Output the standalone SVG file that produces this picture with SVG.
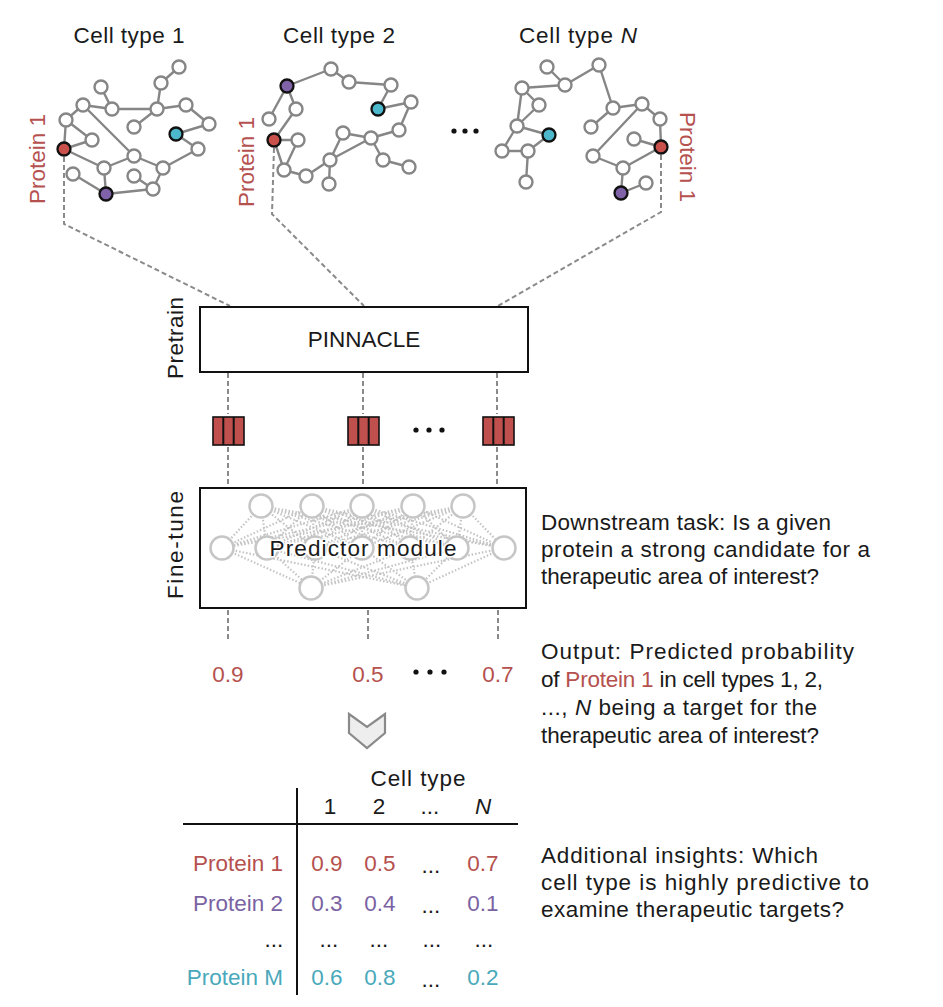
<svg xmlns="http://www.w3.org/2000/svg" width="943" height="1007" viewBox="0 0 943 1007">
<defs>
<style>
.t{font-family:"Liberation Sans",Arial,sans-serif;font-size:22.5px;fill:#1a1a1a}
.red{fill:#b5514e}
.pur{fill:#7a62a3}
.cyn{fill:#49a9bb}
.e{stroke:#868686;stroke-width:2.4;fill:none}
.n{fill:#fff;stroke:#868686;stroke-width:2.4}
.nr{fill:#c9504b;stroke:#111;stroke-width:2.3}
.nc{fill:#4db8cc;stroke:#111;stroke-width:2.3}
.np{fill:#7f62a8;stroke:#111;stroke-width:2.3}
.dash{stroke:#8a8a8a;stroke-width:2;fill:none;stroke-dasharray:5 3}
.box{fill:#fff;stroke:#111;stroke-width:2}
.pn{fill:#fff;stroke:#c6c6c6;stroke-width:2.5}
.pl{stroke:#c4c4c4;stroke-width:2.2;stroke-dasharray:1.5 2;fill:none}
.emb{fill:#c0504d;stroke:#111;stroke-width:1.6}
.dot{fill:#111}
.rule{stroke:#111;stroke-width:2}
</style>
</defs>
<rect width="943" height="1007" fill="#fff"/>

<!-- connectors -->
<g id="connectors">
  <path class="dash" d="M64 157L64 224L230 306"/>
  <path class="dash" d="M274 148L272 214L364 306"/>
  <path class="dash" d="M661 155L661 212L498 306"/>
  <path class="dash" d="M228 373V414M363 373V414M497 373V414"/>
  <path class="dash" d="M228 447V487M363 447V487M497 447V487"/>
  <path class="dash" d="M228 610V641M368 610V641M498 610V641"/>
</g>

<!-- Cell type 1 graph -->
<g id="graph1">
  <text class="t" x="129" y="43" text-anchor="middle" textLength="111" lengthAdjust="spacing">Cell type 1</text>
  <path class="e" d="M179 67L161 83M161 83L157 109M157 109L186 105M186 105L209 124M157 109L112 109M157 109L134 127M101 87L112 109M112 109L83 105M83 105L66 120M83 105L134 156M66 120L92 140M66 120L64 149M64 149L92 140M64 149L104 168M104 168L134 156M104 168L106 194M73 174L106 194M134 156L163 168M163 168L198 149M163 168L153 189M134 176L153 189M106 194L153 189M176 134L209 124M176 134L198 149"/>
  <circle class="n" cx="179" cy="67" r="6.5"/><circle class="n" cx="161" cy="83" r="6.5"/><circle class="n" cx="101" cy="87" r="6.5"/><circle class="n" cx="83" cy="105" r="6.5"/><circle class="n" cx="112" cy="109" r="6.5"/><circle class="n" cx="157" cy="109" r="6.5"/><circle class="n" cx="186" cy="105" r="6.5"/><circle class="n" cx="66" cy="120" r="6.5"/><circle class="n" cx="134" cy="127" r="6.5"/><circle class="n" cx="209" cy="124" r="6.5"/><circle class="n" cx="92" cy="140" r="6.5"/><circle class="n" cx="198" cy="149" r="6.5"/><circle class="n" cx="134" cy="156" r="6.5"/><circle class="n" cx="104" cy="168" r="6.5"/><circle class="n" cx="163" cy="168" r="6.5"/><circle class="n" cx="73" cy="174" r="6.5"/><circle class="n" cx="134" cy="176" r="6.5"/><circle class="n" cx="153" cy="189" r="6.5"/>
  <circle class="nc" cx="176" cy="134" r="6.5"/>
  <circle class="nr" cx="64" cy="149" r="6.5"/>
  <circle class="np" cx="106" cy="194" r="6.5"/>
  <text class="t red" transform="translate(45,159) rotate(-90)" text-anchor="middle">Protein 1</text>
</g>

<!-- Cell type 2 graph -->
<g id="graph2">
  <text class="t" x="339" y="43" text-anchor="middle" textLength="112" lengthAdjust="spacing">Cell type 2</text>
  <path class="e" d="M287 86L331 69M331 69L349 82M349 82L391 85M391 85L378 109M378 109L411 102M411 102L399 130M399 130L371 138M371 138L343 133M371 138L330 160M371 138L383 160M383 160L409 167M343 133L330 160M330 160L306 176M330 160L329 184M306 176L284 170M284 170L274 140M284 170L298 140M274 140L298 140M274 140L296 109M296 109L287 86M269 119L287 86"/>
  <circle class="n" cx="331" cy="69" r="6.5"/><circle class="n" cx="349" cy="82" r="6.5"/><circle class="n" cx="391" cy="85" r="6.5"/><circle class="n" cx="411" cy="102" r="6.5"/><circle class="n" cx="296" cy="109" r="6.5"/><circle class="n" cx="269" cy="119" r="6.5"/><circle class="n" cx="399" cy="130" r="6.5"/><circle class="n" cx="343" cy="133" r="6.5"/><circle class="n" cx="371" cy="138" r="6.5"/><circle class="n" cx="298" cy="140" r="6.5"/><circle class="n" cx="330" cy="160" r="6.5"/><circle class="n" cx="383" cy="160" r="6.5"/><circle class="n" cx="409" cy="167" r="6.5"/><circle class="n" cx="284" cy="170" r="6.5"/><circle class="n" cx="306" cy="176" r="6.5"/><circle class="n" cx="329" cy="184" r="6.5"/>
  <circle class="np" cx="287" cy="86" r="6.5"/>
  <circle class="nc" cx="378" cy="109" r="6.5"/>
  <circle class="nr" cx="274" cy="140" r="6.5"/>
  <text class="t red" transform="translate(254,162) rotate(-90)" text-anchor="middle">Protein 1</text>
</g>

<g id="graph-dots">
  <circle class="dot" cx="454" cy="131" r="2.6"/><circle class="dot" cx="465" cy="131" r="2.6"/><circle class="dot" cx="476" cy="131" r="2.6"/>
</g>

<!-- Cell type N graph -->
<g id="graphN">
  <text class="t" x="578" y="43" text-anchor="middle" textLength="118" lengthAdjust="spacing">Cell type <tspan font-style="italic">N</tspan></text>
  <path class="e" d="M547 67L565 85M565 85L599 65M565 85L522 88M522 88L539 105M522 88L517 126M539 105L517 126M517 126L549 135M517 126L502 151M502 151L528 151M528 151L549 135M528 151L526 182M599 65L613 108M613 108L591 127M613 108L642 104M642 104L660 119M642 104L593 156M660 119L661 147M634 139L661 147M661 147L623 168M623 168L593 156M623 168L621 193M621 193L646 183"/>
  <circle class="n" cx="599" cy="65" r="6.5"/><circle class="n" cx="547" cy="67" r="6.5"/><circle class="n" cx="565" cy="85" r="6.5"/><circle class="n" cx="522" cy="88" r="6.5"/><circle class="n" cx="539" cy="105" r="6.5"/><circle class="n" cx="613" cy="108" r="6.5"/><circle class="n" cx="642" cy="104" r="6.5"/><circle class="n" cx="660" cy="119" r="6.5"/><circle class="n" cx="517" cy="126" r="6.5"/><circle class="n" cx="591" cy="127" r="6.5"/><circle class="n" cx="634" cy="139" r="6.5"/><circle class="n" cx="502" cy="151" r="6.5"/><circle class="n" cx="528" cy="151" r="6.5"/><circle class="n" cx="593" cy="156" r="6.5"/><circle class="n" cx="623" cy="168" r="6.5"/><circle class="n" cx="526" cy="182" r="6.5"/><circle class="n" cx="646" cy="183" r="6.5"/>
  <circle class="nc" cx="549" cy="135" r="6.5"/>
  <circle class="nr" cx="661" cy="147" r="6.5"/>
  <circle class="np" cx="621" cy="193" r="6.5"/>
  <text class="t red" transform="translate(680,157) rotate(90)" text-anchor="middle">Protein 1</text>
</g>

<!-- Pretrain / PINNACLE -->
<g id="pinnacle">
  <text class="t" transform="translate(183,338) rotate(-90)" text-anchor="middle" textLength="82" lengthAdjust="spacing">Pretrain</text>
  <rect class="box" x="200" y="307" width="328" height="65"/>
  <text class="t" x="364" y="347" text-anchor="middle">PINNACLE</text>
</g>

<!-- embeddings -->
<g id="embedding1">
  <rect class="emb" x="213" y="417" width="31" height="28"/><path class="rule" d="M223.3 417V445M233.7 417V445" stroke-width="1.6"/>
</g>
<g id="embedding2">
  <rect class="emb" x="348" y="417" width="31" height="28"/><path class="rule" d="M358.3 417V445M368.7 417V445" stroke-width="1.6"/>
</g>
<g id="embedding-dots">
  <circle class="dot" cx="416" cy="430" r="2.6"/><circle class="dot" cx="429" cy="430" r="2.6"/><circle class="dot" cx="442" cy="430" r="2.6"/>
</g>
<g id="embeddingN">
  <rect class="emb" x="483" y="417" width="31" height="28"/><path class="rule" d="M493.3 417V445M503.7 417V445" stroke-width="1.6"/>
</g>

<!-- Fine-tune / Predictor module -->
<g id="predictor">
  <text class="t" transform="translate(183,545) rotate(-90)" text-anchor="middle" textLength="108" lengthAdjust="spacing">Fine-tune</text>
  <rect class="box" x="200" y="488" width="326" height="120"/>
  <path class="pl" d="M261 506L222 548M261 506L267 548M261 506L315 548M261 506L362 548M261 506L410 548M261 506L457 548M261 506L504 548M312 506L222 548M312 506L267 548M312 506L315 548M312 506L362 548M312 506L410 548M312 506L457 548M312 506L504 548M362 506L222 548M362 506L267 548M362 506L315 548M362 506L362 548M362 506L410 548M362 506L457 548M362 506L504 548M413 506L222 548M413 506L267 548M413 506L315 548M413 506L362 548M413 506L410 548M413 506L457 548M413 506L504 548M463 506L222 548M463 506L267 548M463 506L315 548M463 506L362 548M463 506L410 548M463 506L457 548M463 506L504 548M222 548L311 588M222 548L417 588M267 548L311 588M267 548L417 588M315 548L311 588M315 548L417 588M362 548L311 588M362 548L417 588M410 548L311 588M410 548L417 588M457 548L311 588M457 548L417 588M504 548L311 588M504 548L417 588"/>
  <circle class="pn" cx="261" cy="506" r="11.5"/><circle class="pn" cx="312" cy="506" r="11.5"/><circle class="pn" cx="362" cy="506" r="11.5"/><circle class="pn" cx="413" cy="506" r="11.5"/><circle class="pn" cx="463" cy="506" r="11.5"/>
  <circle class="pn" cx="222" cy="548" r="11.5"/><circle class="pn" cx="267" cy="548" r="11.5"/><circle class="pn" cx="315" cy="548" r="11.5"/><circle class="pn" cx="362" cy="548" r="11.5"/><circle class="pn" cx="410" cy="548" r="11.5"/><circle class="pn" cx="457" cy="548" r="11.5"/><circle class="pn" cx="504" cy="548" r="11.5"/>
  <circle class="pn" cx="311" cy="588" r="11.5"/><circle class="pn" cx="417" cy="588" r="11.5"/>
  <text class="t" x="363" y="556" text-anchor="middle" textLength="187" lengthAdjust="spacing" stroke="#fff" stroke-width="3" paint-order="stroke">Predictor module</text>
</g>

<!-- outputs -->
<g id="outputs">
  <text class="t red" x="228" y="682" text-anchor="middle">0.9</text>
  <text class="t red" x="368" y="682" text-anchor="middle">0.5</text>
  <circle class="dot" cx="416" cy="672" r="2.6"/><circle class="dot" cx="430" cy="672" r="2.6"/><circle class="dot" cx="444" cy="672" r="2.6"/>
  <text class="t red" x="498" y="682" text-anchor="middle">0.7</text>
</g>

<g id="chevron">
  <polygon points="349,714 367,727 385,714 385,733 367,748 349,733" fill="#eeeeee" stroke="#8a8a8a" stroke-width="2.2" stroke-linejoin="miter"/>
</g>

<!-- table -->
<g id="table">
  <text class="t" x="418" y="786" text-anchor="middle" textLength="95" lengthAdjust="spacing">Cell type</text>
  <text class="t" x="330" y="814" text-anchor="middle">1</text>
  <text class="t" x="379" y="814" text-anchor="middle">2</text>
  <text class="t" x="430" y="814" text-anchor="middle">...</text>
  <text class="t" x="483" y="814" text-anchor="middle" font-style="italic">N</text>
  <path class="rule" d="M297 788V995M183 824H518"/>
  <text class="t red" x="283" y="871" text-anchor="end">Protein 1</text>
  <text class="t red" x="327" y="871" text-anchor="middle">0.9</text>
  <text class="t red" x="380" y="871" text-anchor="middle">0.5</text>
  <text class="t" x="431" y="873" text-anchor="middle">...</text>
  <text class="t red" x="483" y="871" text-anchor="middle">0.7</text>
  <text class="t pur" x="283" y="911" text-anchor="end">Protein 2</text>
  <text class="t pur" x="327" y="911" text-anchor="middle">0.3</text>
  <text class="t pur" x="380" y="911" text-anchor="middle">0.4</text>
  <text class="t" x="431" y="913" text-anchor="middle">...</text>
  <text class="t pur" x="483" y="911" text-anchor="middle">0.1</text>
  <text class="t" x="274" y="947" text-anchor="middle">...</text>
  <text class="t" x="329" y="947" text-anchor="middle">...</text>
  <text class="t" x="379" y="947" text-anchor="middle">...</text>
  <text class="t" x="432" y="947" text-anchor="middle">...</text>
  <text class="t" x="484" y="947" text-anchor="middle">...</text>
  <text class="t cyn" x="283" y="985" text-anchor="end">Protein M</text>
  <text class="t cyn" x="327" y="985" text-anchor="middle">0.6</text>
  <text class="t cyn" x="380" y="985" text-anchor="middle">0.8</text>
  <text class="t" x="431" y="987" text-anchor="middle">...</text>
  <text class="t cyn" x="483" y="985" text-anchor="middle">0.2</text>
</g>

<!-- side notes -->
<g id="note-downstream">
  <text class="t" x="541" y="530" textLength="290" lengthAdjust="spacing">Downstream task: Is a given</text>
  <text class="t" x="541" y="557" textLength="329" lengthAdjust="spacing">protein a strong candidate for a</text>
  <text class="t" x="541" y="584" textLength="278" lengthAdjust="spacing">therapeutic area of interest?</text>
</g>
<g id="note-output">
  <text class="t" x="541" y="659" textLength="313" lengthAdjust="spacing">Output: Predicted probability</text>
  <text class="t" x="541" y="687" textLength="282" lengthAdjust="spacing">of <tspan class="red">Protein 1</tspan> in cell types 1, 2,</text>
  <text class="t" x="541" y="715" textLength="276" lengthAdjust="spacing">..., <tspan font-style="italic">N</tspan> being a target for the</text>
  <text class="t" x="541" y="743" textLength="278" lengthAdjust="spacing">therapeutic area of interest?</text>
</g>
<g id="note-insights">
  <text class="t" x="541" y="863" textLength="277" lengthAdjust="spacing">Additional insights: Which</text>
  <text class="t" x="541" y="890" textLength="328" lengthAdjust="spacing">cell type is highly predictive to</text>
  <text class="t" x="541" y="917" textLength="303" lengthAdjust="spacing">examine therapeutic targets?</text>
</g>
</svg>
